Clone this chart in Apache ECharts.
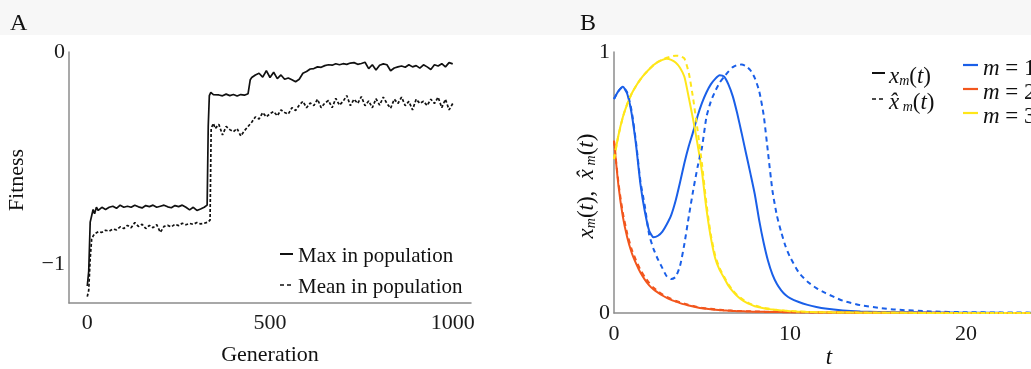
<!DOCTYPE html>
<html>
<head>
<meta charset="utf-8">
<script src="https://cdn.jsdelivr.net/npm/echarts@6/dist/echarts.min.js"></script>
<style>
html,body{margin:0;padding:0;background:#fff;}
#chart{width:1031px;height:369px;}
</style>
</head>
<body>
<div id="chart"></div>
<script>
// ---------- Panel A data ----------
const maxGen = [0,4,8,12,16,20,25,30,40,50,60,70,80,90,100,110,120,130,140,150,160,170,180,190,200,210,220,230,240,250,260,270,280,290,300,310,320,328,331,334,338,345,350,360,370,380,390,400,410,420,430,440,446,450,460,470,480,490,500,510,520,530,540,550,560,570,580,590,600,610,620,630,640,650,660,670,680,690,700,710,720,730,740,750,760,770,780,790,800,810,820,830,840,850,860,870,880,890,900,910,920,930,940,950,960,970,980,990,1000];
const maxFit = [-1.10,-1.03,-0.80,-0.77,-0.74,-0.76,-0.73,-0.745,-0.73,-0.74,-0.73,-0.725,-0.735,-0.72,-0.73,-0.725,-0.73,-0.72,-0.728,-0.733,-0.722,-0.727,-0.72,-0.73,-0.725,-0.72,-0.728,-0.732,-0.722,-0.727,-0.72,-0.73,-0.742,-0.73,-0.745,-0.738,-0.73,-0.72,-0.35,-0.205,-0.19,-0.20,-0.195,-0.202,-0.206,-0.198,-0.205,-0.20,-0.207,-0.20,-0.203,-0.196,-0.13,-0.12,-0.108,-0.10,-0.118,-0.088,-0.12,-0.095,-0.125,-0.108,-0.128,-0.122,-0.13,-0.14,-0.128,-0.10,-0.092,-0.08,-0.078,-0.07,-0.072,-0.064,-0.06,-0.062,-0.055,-0.06,-0.055,-0.058,-0.052,-0.05,-0.058,-0.054,-0.048,-0.078,-0.06,-0.085,-0.062,-0.056,-0.06,-0.088,-0.075,-0.07,-0.066,-0.072,-0.06,-0.07,-0.064,-0.076,-0.06,-0.07,-0.082,-0.06,-0.066,-0.055,-0.07,-0.05,-0.056];
const meanGen = [0,4,8,12,16,20,25,30,40,50,60,70,80,90,100,110,120,130,140,150,160,170,180,190,200,210,220,230,240,250,260,270,280,290,300,310,320,330,336,339,345,350,360,370,380,390,400,410,420,430,440,450,460,470,480,490,500,510,520,530,540,550,560,570,580,590,600,610,620,630,640,650,660,670,680,690,700,710,720,730,740,750,760,770,780,790,800,810,820,830,840,850,860,870,880,890,900,910,920,930,940,950,960,970,980,990,1000];
const meanFit = [-1.15,-1.12,-0.97,-0.88,-0.865,-0.855,-0.86,-0.845,-0.848,-0.838,-0.842,-0.832,-0.836,-0.822,-0.83,-0.815,-0.826,-0.802,-0.82,-0.81,-0.83,-0.815,-0.826,-0.812,-0.848,-0.82,-0.815,-0.822,-0.81,-0.816,-0.805,-0.812,-0.806,-0.81,-0.802,-0.808,-0.805,-0.80,-0.79,-0.36,-0.335,-0.36,-0.34,-0.39,-0.35,-0.365,-0.375,-0.36,-0.395,-0.37,-0.35,-0.33,-0.305,-0.315,-0.285,-0.305,-0.29,-0.28,-0.30,-0.272,-0.284,-0.292,-0.262,-0.275,-0.25,-0.232,-0.262,-0.24,-0.252,-0.222,-0.262,-0.24,-0.228,-0.262,-0.218,-0.25,-0.232,-0.205,-0.252,-0.222,-0.242,-0.21,-0.252,-0.23,-0.262,-0.22,-0.25,-0.212,-0.242,-0.265,-0.222,-0.242,-0.212,-0.252,-0.232,-0.272,-0.222,-0.242,-0.232,-0.252,-0.222,-0.242,-0.212,-0.262,-0.222,-0.272,-0.242];
const genTicks = [0, 500, 1000];
const fitTicks = [-1, 0];

// ---------- Panel B data ----------
const tB = [0,0.25,0.5,0.75,1,1.25,1.5,1.75,2,2.25,2.5,2.75,3,3.25,3.5,3.75,4,4.25,4.5,4.75,5,5.25,5.5,5.75,6,6.25,6.5,6.75,7,7.25,7.5,7.75,8,8.25,8.5,8.75,9,9.25,9.5,9.75,10,10.5,11,11.5,12,13,14,15,16,18,20,22,25,28,30];
const x1 = [0.82,0.85,0.867,0.84,0.765,0.645,0.495,0.39,0.315,0.29,0.296,0.312,0.34,0.375,0.43,0.50,0.575,0.64,0.695,0.755,0.805,0.845,0.876,0.897,0.911,0.906,0.876,0.83,0.765,0.69,0.612,0.535,0.455,0.355,0.27,0.2,0.148,0.112,0.087,0.069,0.057,0.042,0.031,0.023,0.017,0.01,0.006,0.004,0.003,0.002,0.001,0.0005,0,0,0];
const x1hat = [0.82,0.85,0.866,0.845,0.775,0.655,0.505,0.41,0.30,0.245,0.205,0.172,0.14,0.13,0.138,0.18,0.265,0.37,0.47,0.56,0.635,0.75,0.81,0.85,0.882,0.905,0.925,0.942,0.95,0.952,0.946,0.93,0.90,0.85,0.76,0.615,0.47,0.375,0.31,0.255,0.215,0.155,0.12,0.095,0.077,0.047,0.03,0.02,0.013,0.006,0.003,0.002,0.001,0,0];
const x2 = [0.66,0.49,0.37,0.29,0.232,0.19,0.155,0.128,0.106,0.09,0.078,0.067,0.058,0.05,0.044,0.038,0.033,0.029,0.025,0.021,0.018,0.016,0.014,0.012,0.011,0.01,0.009,0.008,0.007,0.0065,0.006,0.0055,0.005,0.0047,0.0044,0.0041,0.0038,0.0036,0.0034,0.0032,0.003,0.0027,0.0024,0.0021,0.0019,0.0015,0.0012,0.001,0.0008,0.0005,0.0003,0.0002,0.0001,0,0];
const x2hat = [0.66,0.50,0.385,0.305,0.245,0.202,0.166,0.138,0.115,0.097,0.083,0.071,0.062,0.054,0.047,0.041,0.036,0.031,0.027,0.023,0.02,0.018,0.016,0.014,0.012,0.011,0.01,0.009,0.008,0.0075,0.007,0.0065,0.006,0.0056,0.0052,0.0048,0.0045,0.0042,0.004,0.0037,0.0035,0.0031,0.0028,0.0025,0.0022,0.0018,0.0014,0.0011,0.0009,0.0006,0.0004,0.0002,0.0001,0,0];
const x3 = [0.59,0.68,0.75,0.80,0.84,0.87,0.895,0.916,0.934,0.95,0.962,0.97,0.974,0.97,0.96,0.94,0.905,0.825,0.74,0.645,0.54,0.40,0.29,0.21,0.165,0.135,0.105,0.083,0.065,0.051,0.041,0.033,0.026,0.022,0.018,0.015,0.013,0.011,0.0095,0.008,0.007,0.005,0.004,0.003,0.0025,0.0018,0.0012,0.0008,0.0006,0.0003,0.0002,0.0001,0,0,0];
const x3hat = [0.59,0.68,0.75,0.80,0.84,0.87,0.895,0.916,0.934,0.95,0.962,0.972,0.978,0.983,0.986,0.984,0.975,0.92,0.82,0.70,0.57,0.42,0.30,0.22,0.172,0.14,0.11,0.087,0.069,0.055,0.044,0.035,0.029,0.024,0.02,0.017,0.014,0.012,0.0105,0.009,0.008,0.006,0.0045,0.0035,0.003,0.002,0.0014,0.001,0.0007,0.0004,0.0002,0.0001,0,0,0];
const tTicks = [0, 10, 20];
const xTicksB = [0, 1];

const seriesNames = ['m = 1', 'm = 2', 'm = 3'];
const colors = ['#1a5fe8', '#f2561d', '#ffe619'];

// ---------- build ----------
const pairs = (xs, ys) => xs.map((x, i) => [x, ys[i]]);
const FONT = 'Liberation Serif';
const axisLineStyle = { color: '#8c8c8c', width: 1.5 };
const labelStyle = { fontFamily: FONT, fontSize: 22, color: '#1a1a1a' };
const fmt = v => (v < 0 ? '\u2212' + Math.abs(v) : String(v));

function mkAxis(gridIndex, min, max, ticks, isY, margin) {
  return {
    gridIndex, type: 'value', min, max,
    axisLine: { show: true, onZero: false, lineStyle: axisLineStyle },
    axisTick: { show: false },
    splitLine: { show: false },
    axisLabel: Object.assign({ customValues: ticks, margin, formatter: fmt, showMinLabel: true, showMaxLabel: true }, labelStyle)
  };
}

const lineSeries = (name, xi, data, color, dashed, width) => ({
  name, type: 'line', xAxisIndex: xi, yAxisIndex: xi, data,
  showSymbol: false, symbol: 'none', clip: xi === 0, smooth: xi === 1 ? 0.2 : false,
  lineStyle: { color, width, type: dashed ? (xi === 0 ? [3, 2] : [5, 4]) : 'solid' },
  emphasis: { disabled: true }, silent: true
});

const rich = {
  i: { fontFamily: FONT, fontStyle: 'italic', fontSize: 23, lineHeight: 28, verticalAlign: 'bottom', fill: '#111' },
  n: { fontFamily: FONT, fontSize: 23, lineHeight: 28, verticalAlign: 'bottom', fill: '#111' },
  s: { fontFamily: FONT, fontStyle: 'italic', fontSize: 14, lineHeight: 11, verticalAlign: 'bottom', fill: '#111' }
};
const xm = '{i|x}{s|m}{n|(}{i|t}{n|)}';
const xmhat = '{i|x\u0302}{s| m}{n|(}{i|t}{n|)}';

const graphic = [
  { type: 'rect', z: -10, shape: { x: 0, y: 0, width: 1031, height: 35 }, style: { fill: '#f7f7f7' }, silent: true },
  { type: 'text', x: 10, y: 24, style: { text: 'A', font: '24px "Liberation Serif"', fill: '#111', verticalAlign: 'middle' } },
  { type: 'text', x: 580, y: 24, style: { text: 'B', font: '24px "Liberation Serif"', fill: '#111', verticalAlign: 'middle' } },
  { type: 'text', x: 17, y: 180, rotation: Math.PI / 2, style: { text: 'Fitness', font: '22px "Liberation Serif"', fill: '#111', align: 'center', verticalAlign: 'middle' } },
  { type: 'text', x: 270, y: 355, style: { text: 'Generation', font: '22px "Liberation Serif"', fill: '#111', align: 'center', verticalAlign: 'middle' } },
  { type: 'text', x: 829, y: 358, style: { text: 't', font: 'italic 23px "Liberation Serif"', fill: '#111', align: 'center', verticalAlign: 'middle' } },
  // legend A
  { type: 'line', shape: { x1: 280, y1: 254, x2: 293, y2: 254 }, style: { stroke: '#111', lineWidth: 2 } },
  { type: 'text', x: 298, y: 256, style: { text: 'Max in population', font: '21px "Liberation Serif"', fill: '#111', verticalAlign: 'middle' } },
  { type: 'line', shape: { x1: 280, y1: 285, x2: 294, y2: 285 }, style: { stroke: '#111', lineWidth: 1.5, lineDash: [4, 3] } },
  { type: 'text', x: 298, y: 287, style: { text: 'Mean in population', font: '21px "Liberation Serif"', fill: '#111', verticalAlign: 'middle' } },
  // y title B
  { type: 'text', x: 584, y: 186, rotation: Math.PI / 2, style: { text: xm + '{n|,  }' + xmhat, rich, align: 'center', verticalAlign: 'middle' } },
  // legend B (line style)
  { type: 'line', shape: { x1: 872, y1: 73, x2: 885, y2: 73 }, style: { stroke: '#111', lineWidth: 2 } },
  { type: 'text', x: 889, y: 74, style: { text: xm, rich, verticalAlign: 'middle' } },
  { type: 'line', shape: { x1: 872, y1: 99, x2: 886, y2: 99 }, style: { stroke: '#111', lineWidth: 1.5, lineDash: [4, 3] } },
  { type: 'text', x: 889, y: 100, style: { text: xmhat, rich, verticalAlign: 'middle' } }
];
seriesNames.forEach((nm, k) => {
  const y = 65 + k * 24;
  graphic.push({ type: 'line', shape: { x1: 963, y1: y, x2: 978, y2: y }, style: { stroke: colors[k], lineWidth: 2.2 } });
  graphic.push({ type: 'text', x: 983, y: y + 1, style: { text: '{i|m}{n| = ' + nm.split('= ')[1] + '}', rich, verticalAlign: 'middle' } });
});

const option = {
  animation: false,
  backgroundColor: '#ffffff',
  grid: [
    { left: 69, top: 52, width: 402, height: 251, containLabel: false, outerBoundsMode: 'none' },
    { left: 614, top: 52, width: 528, height: 261, containLabel: false, outerBoundsMode: 'none' }
  ],
  xAxis: [mkAxis(0, -50, 1050, genTicks, false, 9), mkAxis(1, 0, 30, tTicks, false, 10)],
  yAxis: [mkAxis(0, -1.18, 0, fitTicks, true, 4), mkAxis(1, 0, 1, xTicksB, true, 4)],
  series: [
    lineSeries('Max in population', 0, pairs(maxGen, maxFit), '#111', false, 1.7),
    lineSeries('Mean in population', 0, pairs(meanGen, meanFit), '#111', true, 1.7),
    lineSeries('x1', 1, pairs(tB, x1), colors[0], false, 2),
    lineSeries('x2', 1, pairs(tB, x2), colors[1], false, 2),
    lineSeries('x3', 1, pairs(tB, x3), colors[2], false, 2),
    lineSeries('x1hat', 1, pairs(tB, x1hat), colors[0], true, 2),
    lineSeries('x2hat', 1, pairs(tB, x2hat), colors[1], true, 2),
    lineSeries('x3hat', 1, pairs(tB, x3hat), colors[2], true, 2)
  ],
  graphic
};

const chart = echarts.init(document.getElementById('chart'), null, { renderer: 'canvas' });
chart.setOption(option);
</script>
</body>
</html>
